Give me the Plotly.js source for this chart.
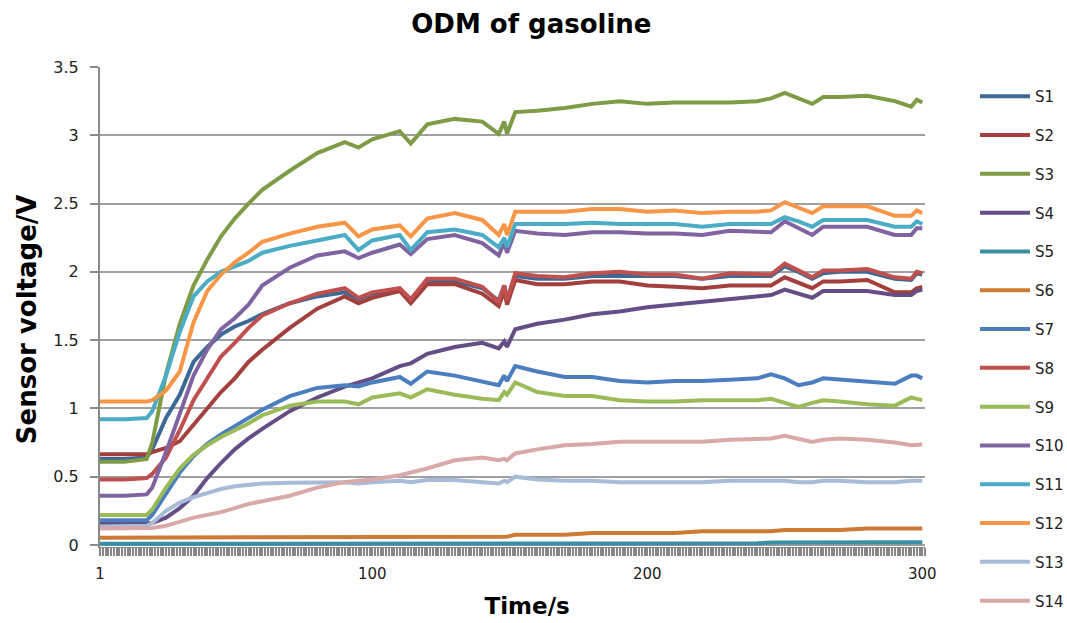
<!DOCTYPE html>
<html>
<head>
<meta charset="utf-8">
<script src="https://cdn.plot.ly/plotly-3.0.1.min.js"></script>
<style>html,body{margin:0;padding:0;background:#fff}#chart{width:1067px;height:623px}</style>
</head>
<body>
<div id="chart"></div>
<script>
// Time samples (s)
const time = [1, 10, 18, 20, 25, 30, 35, 40, 45, 50, 55, 60, 70, 80, 90, 95, 100, 110, 114, 120, 130, 140, 146, 148, 149, 152, 160, 170, 180, 190, 200, 210, 220, 230, 240, 245, 250, 255, 260, 264, 270, 280, 290, 296, 298, 300];

const seriesNames = ['S1','S2','S3','S4','S5','S6','S7','S8','S9','S10','S11','S12','S13','S14'];
const seriesColors = ['#3C6996','#A33F3C','#7E9B46','#654D85','#3A8FA5','#CE7A34','#4A7EBF','#C0504D','#9BBB59','#8064A2','#4BACC6','#F79646','#A8BBD8','#D9A9A8'];

const s1  = [0.63,0.63,0.64,0.70,0.93,1.10,1.34,1.45,1.54,1.60,1.64,1.69,1.77,1.82,1.85,1.80,1.84,1.87,1.80,1.93,1.93,1.88,1.79,1.90,1.80,1.97,1.95,1.95,1.97,1.97,1.97,1.97,1.95,1.97,1.97,1.97,2.04,2.00,1.95,1.99,2.00,2.00,1.95,1.94,1.99,1.98];
const s2  = [0.665,0.665,0.665,0.68,0.71,0.76,0.88,1.00,1.12,1.22,1.34,1.43,1.59,1.73,1.82,1.77,1.81,1.86,1.77,1.91,1.91,1.84,1.75,1.86,1.76,1.94,1.91,1.91,1.93,1.93,1.90,1.89,1.88,1.90,1.90,1.90,1.96,1.92,1.88,1.93,1.93,1.94,1.85,1.85,1.88,1.89];
const s3  = [0.61,0.61,0.63,0.75,1.25,1.62,1.90,2.09,2.26,2.39,2.50,2.60,2.74,2.87,2.95,2.91,2.97,3.03,2.94,3.08,3.12,3.10,3.01,3.10,3.01,3.17,3.18,3.20,3.23,3.25,3.23,3.24,3.24,3.24,3.25,3.27,3.31,3.27,3.23,3.28,3.28,3.29,3.25,3.21,3.26,3.24];
const s4  = [0.155,0.155,0.155,0.16,0.20,0.27,0.36,0.49,0.60,0.70,0.78,0.85,0.98,1.08,1.16,1.19,1.22,1.31,1.33,1.40,1.45,1.48,1.44,1.49,1.45,1.58,1.62,1.65,1.69,1.71,1.74,1.76,1.78,1.80,1.82,1.83,1.87,1.84,1.81,1.86,1.86,1.86,1.83,1.83,1.86,1.87];
const s5  = [0.008,0.008,0.008,0.008,0.008,0.008,0.008,0.008,0.008,0.008,0.008,0.008,0.008,0.008,0.008,0.008,0.008,0.008,0.008,0.012,0.012,0.012,0.012,0.012,0.012,0.012,0.012,0.012,0.012,0.012,0.012,0.012,0.012,0.012,0.012,0.018,0.018,0.018,0.018,0.018,0.018,0.018,0.018,0.02,0.02,0.02];
const s6  = [0.053,0.053,0.053,0.053,0.053,0.053,0.053,0.053,0.053,0.053,0.053,0.053,0.053,0.06,0.06,0.06,0.06,0.06,0.06,0.06,0.06,0.06,0.06,0.06,0.06,0.075,0.075,0.075,0.087,0.087,0.087,0.087,0.10,0.10,0.10,0.10,0.11,0.11,0.11,0.11,0.11,0.12,0.12,0.12,0.12,0.12];
const s7  = [0.18,0.18,0.18,0.22,0.38,0.53,0.65,0.74,0.81,0.87,0.93,0.99,1.09,1.15,1.17,1.16,1.19,1.23,1.18,1.27,1.24,1.20,1.17,1.24,1.20,1.31,1.27,1.23,1.23,1.20,1.19,1.20,1.20,1.21,1.22,1.25,1.22,1.17,1.19,1.22,1.21,1.19,1.18,1.24,1.24,1.22];
const s8  = [0.48,0.48,0.49,0.52,0.64,0.84,1.06,1.22,1.38,1.48,1.59,1.68,1.77,1.84,1.88,1.81,1.85,1.88,1.80,1.95,1.95,1.89,1.78,1.90,1.79,1.99,1.97,1.96,1.99,2.00,1.98,1.98,1.95,1.99,1.98,1.98,2.06,2.01,1.96,2.01,2.01,2.02,1.96,1.95,2.00,1.99];
const s9  = [0.22,0.22,0.22,0.26,0.42,0.56,0.66,0.73,0.79,0.84,0.89,0.95,1.02,1.05,1.05,1.03,1.08,1.11,1.08,1.14,1.10,1.07,1.06,1.12,1.10,1.19,1.12,1.09,1.09,1.06,1.05,1.05,1.06,1.06,1.06,1.07,1.04,1.01,1.04,1.06,1.05,1.03,1.02,1.08,1.07,1.06];
const s10 = [0.36,0.36,0.37,0.42,0.68,0.95,1.24,1.43,1.58,1.66,1.76,1.90,2.03,2.12,2.15,2.10,2.14,2.20,2.13,2.24,2.27,2.21,2.12,2.22,2.14,2.30,2.28,2.27,2.29,2.29,2.28,2.28,2.27,2.30,2.29,2.29,2.37,2.32,2.27,2.33,2.33,2.33,2.27,2.27,2.32,2.32];
const s11 = [0.92,0.92,0.93,0.98,1.24,1.56,1.82,1.93,2.00,2.04,2.08,2.14,2.19,2.23,2.27,2.16,2.23,2.27,2.16,2.29,2.31,2.27,2.18,2.25,2.18,2.35,2.35,2.35,2.36,2.35,2.35,2.35,2.33,2.35,2.35,2.35,2.40,2.37,2.33,2.38,2.38,2.38,2.33,2.33,2.37,2.35];
const s12 = [1.05,1.05,1.05,1.06,1.13,1.27,1.63,1.86,1.98,2.07,2.14,2.22,2.28,2.33,2.36,2.26,2.31,2.34,2.26,2.39,2.43,2.38,2.27,2.35,2.27,2.44,2.44,2.44,2.46,2.46,2.44,2.45,2.43,2.44,2.44,2.45,2.51,2.47,2.43,2.48,2.48,2.48,2.41,2.41,2.45,2.43];
const s13 = [0.135,0.135,0.14,0.16,0.25,0.31,0.35,0.38,0.41,0.43,0.44,0.45,0.455,0.46,0.46,0.45,0.46,0.47,0.46,0.475,0.475,0.46,0.45,0.47,0.46,0.50,0.48,0.47,0.47,0.46,0.46,0.46,0.46,0.47,0.47,0.475,0.47,0.46,0.46,0.47,0.47,0.46,0.46,0.47,0.47,0.47];
const s14 = [0.12,0.12,0.12,0.125,0.14,0.17,0.20,0.22,0.24,0.27,0.30,0.32,0.36,0.42,0.46,0.47,0.48,0.51,0.53,0.56,0.62,0.64,0.62,0.63,0.62,0.67,0.70,0.73,0.74,0.755,0.755,0.755,0.755,0.77,0.78,0.78,0.80,0.78,0.755,0.77,0.78,0.77,0.75,0.73,0.735,0.735];

const xLabelVals = [1, 100, 200, 300];
const yTickVals = [0, 0.5, 1, 1.5, 2, 2.5, 3, 3.5];

const allSeries = [s1,s2,s3,s4,s5,s6,s7,s8,s9,s10,s11,s12,s13,s14];
const FONT = '"DejaVu Sans", sans-serif';

const traces = allSeries.map((ys, i) => ({
  type: 'scatter',
  mode: 'lines',
  name: seriesNames[i],
  legendgroup: seriesNames[i],
  legend: i < 7 ? 'legend' : 'legend2',
  x: time,
  y: ys,
  line: {color: seriesColors[i], width: 4},
  hoverinfo: 'x+y+name'
}));

const legendStyle = {
  xref: 'container', yref: 'container',
  x: 0.9138, xanchor: 'left',
  yanchor: 'top',
  traceorder: 'grouped',
  tracegroupgap: 16.3,
  itemwidth: 50,
  font: {family: FONT, size: 15, color: '#222'},
  bgcolor: 'rgba(0,0,0,0)'
};

const layout = {
  width: 1067,
  height: 623,
  paper_bgcolor: '#ffffff',
  plot_bgcolor: '#ffffff',
  margin: {l: 100, r: 142, t: 67, b: 76},
  font: {family: FONT, color: '#222'},
  title: {
    text: '<b>ODM of gasoline</b>',
    font: {family: FONT, size: 26, color: '#000'},
    x: 0.498, xref: 'container', xanchor: 'center',
    y: 0.962, yref: 'container', yanchor: 'middle'
  },
  xaxis: {
    range: [1, 301],
    tickmode: 'array',
    tickvals: xLabelVals,
    ticktext: xLabelVals.map(String),
    ticks: 'outside', ticklen: 8, tickwidth: 2.4, tickcolor: '#868686',
    minor: {tick0: 1, dtick: 1, ticks: 'outside', ticklen: 8, tickwidth: 2.4, tickcolor: '#868686', showgrid: false},
    ticklabelstandoff: 5,
    showgrid: false, zeroline: false,
    showline: true, linecolor: '#8a8a8a', linewidth: 1,
    tickfont: {family: FONT, size: 15, color: '#222'},
    title: {text: '&nbsp;&nbsp;&nbsp;&nbsp;<b>Time/s</b>', font: {family: FONT, size: 23, color: '#000'}, standoff: 15}
  },
  yaxis: {
    range: [-0.015, 3.5],
    tickmode: 'array',
    tickvals: yTickVals,
    ticktext: yTickVals.map(String),
    ticks: 'outside', ticklen: 8, tickwidth: 1.5, tickcolor: '#8a8a8a',
    ticklabelstandoff: 8,
    showgrid: true, gridcolor: '#a0a0a0', gridwidth: 1.5,
    zeroline: false,
    showline: true, linecolor: '#8a8a8a', linewidth: 2,
    tickfont: {family: FONT, size: 16, color: '#222'},
    title: {text: '<b>Sensor voltage/V</b>&nbsp;&nbsp;&nbsp;', font: {family: FONT, size: 26, color: '#000'}, standoff: 9}
  },
  showlegend: true,
  legend: Object.assign({}, legendStyle, {y: 0.8716}),
  legend2: Object.assign({}, legendStyle, {y: 0.4356})
};

Plotly.newPlot('chart', traces, layout, {displayModeBar: false});
</script>
</body>
</html>
